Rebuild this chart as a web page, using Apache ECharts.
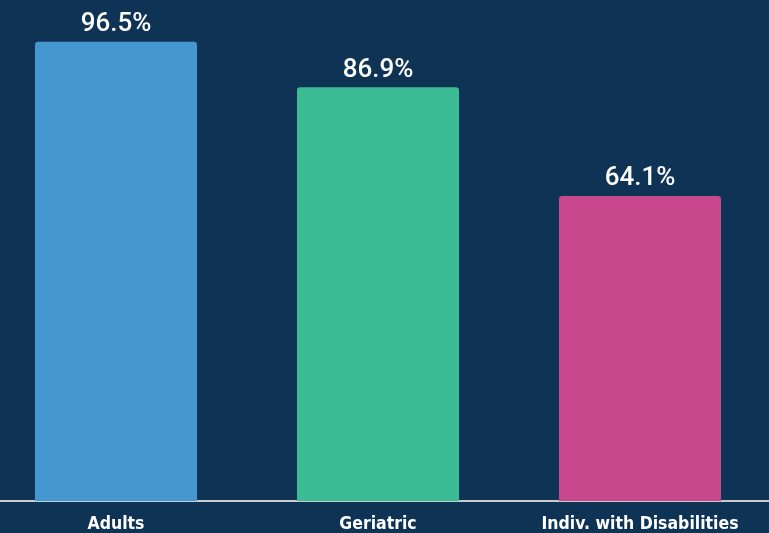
<!DOCTYPE html>
<html><head><meta charset="utf-8">
<script src="https://cdn.jsdelivr.net/npm/echarts@6/dist/echarts.min.js"></script>
<style>html,body{margin:0;padding:0;background:#0f3354;overflow:hidden;width:769px;height:533px;}#c{position:absolute;left:-15px;top:0;width:786px;height:533px;}</style>
</head><body><div id="c"></div>
<script>
const categories = ["Adults", "Geriatric", "Indiv. with Disabilities"];
const values = [96.5, 86.9, 64.1];
const colors = ["#4597d0", "#3bbc95", "#c7488d"];
const chart = echarts.init(document.getElementById('c'));
chart.setOption({
  backgroundColor: '#0f3354',
  animation: false,
  grid: {left: 0, right: 0, top: 25, bottom: 31, containLabel: false},
  xAxis: {
    type: 'category', data: categories,
    axisLine: {lineStyle: {color: '#c8ccd0', width: 2}},
    axisTick: {show: false},
    axisLabel: {interval: 0, color: '#ffffff', fontSize: 17.5, fontWeight: 'bold', fontFamily: '"DejaVu Sans Condensed", "Roboto", sans-serif', margin: 14}
  },
  yAxis: {type: 'value', min: 0, max: 100, show: false, splitLine: {show: false}},
  series: [{
    type: 'bar', barWidth: 162,
    data: values.map((v, i) => ({value: v, itemStyle: {color: colors[i]}})),
    itemStyle: {borderRadius: [3, 3, 0, 0]},
    label: {show: true, position: 'top', distance: 4, color: '#ffffff', fontSize: 26, fontWeight: 500, fontFamily: 'Roboto, sans-serif',
      formatter: p => p.value.toFixed(1) + '%'}
  }]
});
</script></body></html>
